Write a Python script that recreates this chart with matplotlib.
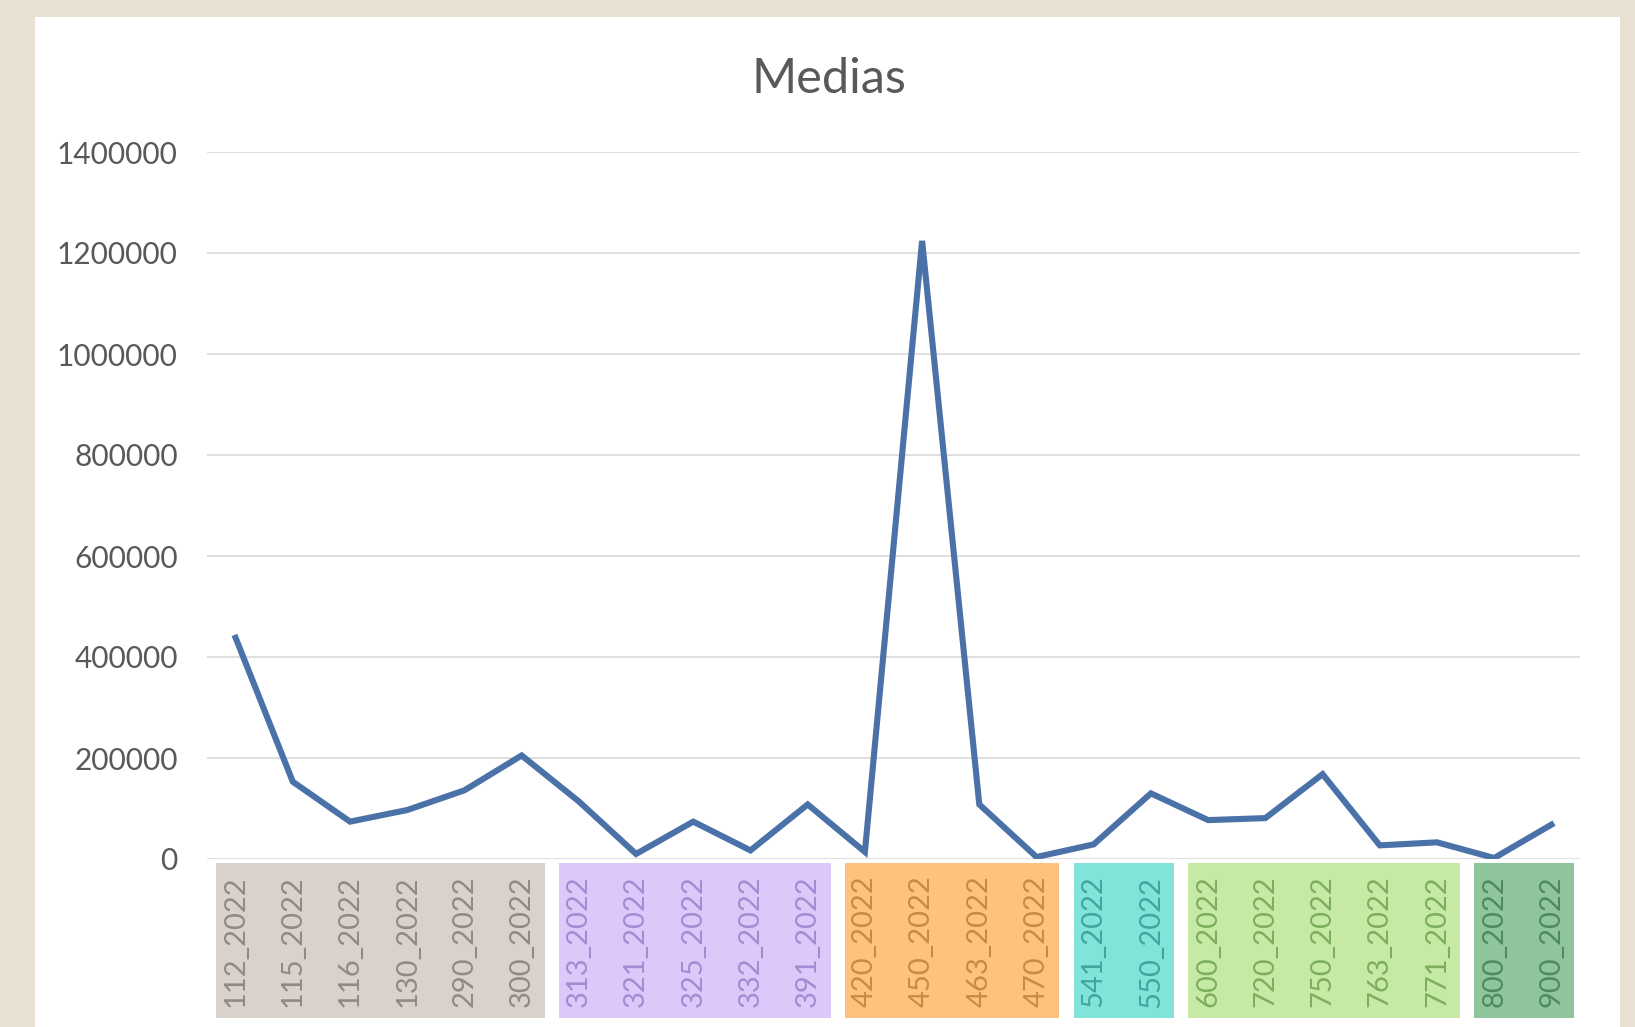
import matplotlib
matplotlib.use("Agg")
import matplotlib.pyplot as plt
from matplotlib.patches import Rectangle

labels = ["112_2022", "115_2022", "116_2022", "130_2022", "290_2022", "300_2022",
          "313_2022", "321_2022", "325_2022", "332_2022", "391_2022",
          "420_2022", "450_2022", "463_2022", "470_2022",
          "541_2022", "550_2022",
          "600_2022", "720_2022", "750_2022", "763_2022", "771_2022",
          "800_2022", "900_2022"]
medias = [438000, 153000, 74000, 97000, 136000, 205000,
          114000, 10000, 74000, 17000, 108000,
          14000, 1224000, 108000, 4000,
          29000, 130000,
          77000, 81000, 168000, 27000, 33000,
          2000, 68000]
group_sizes = [6, 5, 4, 2, 5, 2]
group_fill = ["#D8D2CB", "#DCC9FA", "#FFC27E", "#82E3D8", "#C7E9A6", "#8FC59C"]
group_text = ["#8E8A85", "#A58CD2", "#C98A45", "#3FA79F", "#7DAE5E", "#4F8A5E"]

plt.rcParams['font.family'] = ['Lato', 'DejaVu Sans']

fig = plt.figure(figsize=(16.35, 10.27), dpi=100)
fig.patch.set_facecolor("#E8E0D0")
fig.patches.append(Rectangle((35 / 1635, 0), 1585 / 1635, 1 - 17 / 1027,
                             transform=fig.transFigure, facecolor="white",
                             edgecolor="none", zorder=-10))

ax = fig.add_axes([207 / 1635, 168 / 1027, 1373 / 1635, 707 / 1027])
ax.set_facecolor("none")
x = list(range(len(medias)))
ax.plot(x, medias, color="#4A72A8", lw=4.4, solid_joinstyle="miter", zorder=3)

ax.set_xlim(-0.5, len(medias) - 0.5)
ax.set_ylim(0, 1400000)
ax.set_yticks(range(0, 1400001, 200000))
ax.set_yticklabels([str(v) for v in range(0, 1400001, 200000)])
ax.grid(axis="y", color="#DCDCDC", lw=1.3)
ax.set_axisbelow(True)
for s in ax.spines.values():
    s.set_visible(False)
ax.tick_params(axis="y", length=0, pad=21, labelsize=21.5, labelcolor="#595959")
ax.tick_params(axis="x", length=0, pad=12)
ax.set_xticks(x)
ax.set_xticklabels(labels, rotation=90, fontsize=21, va="top")

# coloured group boxes behind the category labels
start = 0
for size, fc, tc in zip(group_sizes, group_fill, group_text):
    r = Rectangle((start - 0.35, -0.005), size - 0.25, -0.22,
                  transform=ax.get_xaxis_transform(), facecolor=fc,
                  edgecolor="none", clip_on=False, zorder=0)
    ax.add_patch(r)
    for t in ax.get_xticklabels()[start:start + size]:
        t.set_color(tc)
    start += size

fig.text(829 / 1635, 1 - 79 / 1027, "Medias", ha="center", va="center",
         fontsize=35, color="#595959")

fig.savefig("out.png", dpi=100, facecolor=fig.get_facecolor())
